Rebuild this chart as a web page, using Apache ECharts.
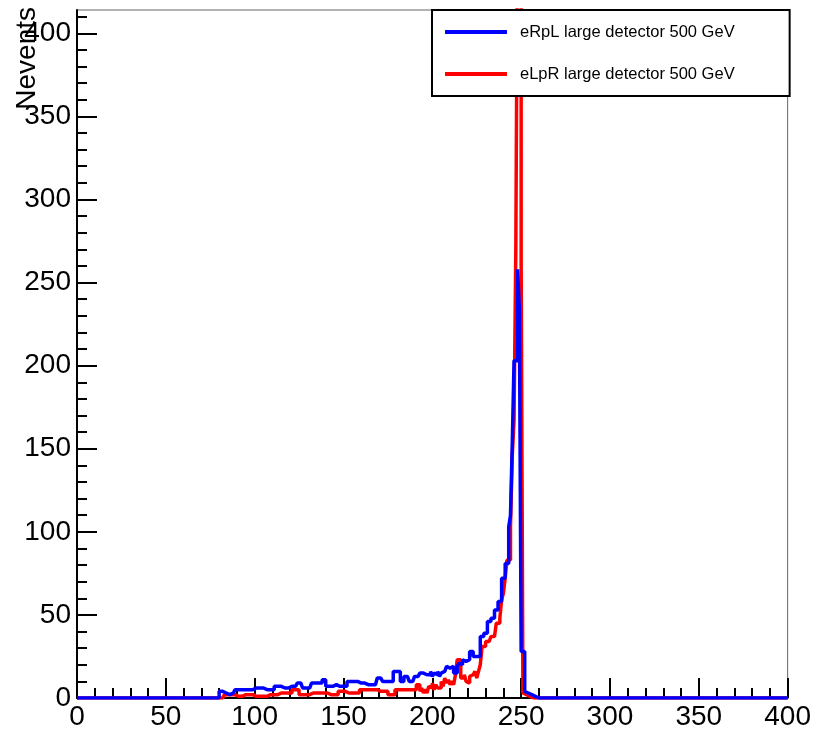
<!DOCTYPE html>
<html>
<head>
<meta charset="utf-8">
<script src="https://cdn.jsdelivr.net/npm/echarts@6/dist/echarts.min.js"></script>
<style>
html,body{margin:0;padding:0;background:#ffffff;}
#chart{width:814px;height:731px;}
</style>
</head>
<body>
<div id="chart"></div>
<script>
// Histogram: 400 bins of width 1 from 0 to 400
const xMin = 0, xMax = 400, yMax = 414;
const blueName = 'eRpL large detector 500 GeV';
const redName = 'eLpR large detector 500 GeV';

// eRpL (blue): counts for bins starting at x = 80
const blueStart = 80;
const blueValues = [
  4,4,3,3,2,2,3,3,2,            // 80-88
  5,5,5,5,                      // 89-92
  5,5,5,5,5,5,                  // 93-98
  6,6,6,6,6,6,6,                // 99-105
  5,5,5,5,5,                    // 106-110
  7,7,7,7,                      // 111-114
  6,6,6,6,6,                    // 115-119
  7,7,7,7,                      // 120-123
  9,9,9,                        // 124-126
  6,6,6,6,6,                    // 127-131
  9,9,9,9,9,9,                  // 132-137
  11,11,                        // 138-139
  7,7,7,7,7,                    // 140-144
  8,8,                          // 145-146
  7,7,7,7,7,                    // 147-151
  10,10,10,10,10,10,            // 152-157
  9,9,9,9,9,                    // 158-162
  8,8,8,8,8,8,                  // 163-168
  12,12,12,                     // 169-171
  10,10,10,10,10,10,            // 172-177
  16,16,16,16,                  // 178-181
  10,10,                        // 182-183
  13,13,13,                     // 184-186
  10,10,10,                     // 187-189
  13,13,13,                     // 190-192
  15,15,                        // 193-194
  14,14,14,14,                  // 195-198
  16,13,15,14,16,13,15,16,      // 199-206
  17,19,18,17,19,               // 207-211
  15,15,                        // 212-213
  19,21,20,23,22,21,23,         // 214-220
  28,28,                        // 221-222
  25,25,25,25,                  // 223-226
  37,37,39,39,46,46,48,48,      // 227-234
  53,53,58,58,72,72,81,81,      // 235-242
  103,110,153,203,203,258,234,  // 243-249
  28,28,4,3,2,2,1,1             // 250-257
];

// eLpR (red): counts for bins starting at x = 80
const redStart = 80;
const redValues = [
  0,0,0,                        // 80-82
  2,2,2,2,2,2,                  // 83-88
  1,1,1,1,                      // 89-92
  2,2,2,2,2,2,2,                // 93-99
  1,1,1,1,1,1,1,                // 100-106
  2,2,2,2,2,2,                  // 107-112
  3,3,3,3,3,3,3,3,              // 113-120
  5,5,5,5,                      // 121-124
  2,2,2,2,2,2,                  // 125-130
  3,3,3,3,3,3,3,3,3,3,3,        // 131-141
  2,2,2,2,2,                    // 142-146
  4,4,4,4,4,                    // 147-151
  3,3,3,3,3,3,3,                // 152-158
  5,5,5,5,5,5,5,5,5,5,5,        // 159-169
  4,4,4,4,4,                    // 170-174
  2,2,2,2,                      // 175-178
  5,5,5,5,5,5,5,5,5,5,5,5,      // 179-190
  8,8,                          // 191-192
  4,6,3,5,3,7,6,9,5,8,6,        // 193-203
  6,10,7,12,9,11,8,10,          // 204-211
  8,14,23,23,12,                // 212-216
  12,14,10,9,13,14,15,16,12,16,20, // 217-227
  31,31,34,34,34,37,37,         // 228-234
  37,45,45,48,59,63,72,83,83,   // 235-243
  103,146,167,270,480,480,262,  // 244-250
  3,2,1,1                       // 251-254
];

// Axis tick values
const yMajorTicks = [0,50,100,150,200,250,300,350,400];
const yMinorTicks = [0,10,20,30,40,50,60,70,80,90,100,110,120,130,140,150,160,170,180,190,200,
  210,220,230,240,250,260,270,280,290,300,310,320,330,340,350,360,370,380,390,400,410];

function buildHist(start, values) {
  const pts = [];
  for (let x = xMin; x < xMax; x++) {
    const i = x - start;
    const v = (i >= 0 && i < values.length) ? values[i] : 0;
    pts.push([x, v]);
  }
  pts.push([xMax, 0]);
  return pts;
}

const font = 'Liberation Sans, Arial, Helvetica, sans-serif';
const chart = echarts.init(document.getElementById('chart'), null, {renderer: 'canvas'});
chart.setOption({
  animation: false,
  backgroundColor: '#ffffff',
  grid: {left: 77, top: 10, right: 26, bottom: 33, show: true, borderColor: '#666666', borderWidth: 1, backgroundColor: 'transparent'},
  xAxis: {
    type: 'value', min: xMin, max: xMax, interval: 50,
    axisLine: {show: true, lineStyle: {color: '#000', width: 2}},
    axisTick: {show: true, inside: true, length: 20, lineStyle: {color: '#000', width: 2}},
    minorTick: {show: true, splitNumber: 5, length: 10, lineStyle: {color: '#000', width: 2}},
    splitLine: {show: false},
    axisLabel: {color: '#000', fontSize: 28, fontFamily: font, margin: 5}
  },
  yAxis: [{
    type: 'value', min: 0, max: yMax, interval: 50, position: 'left',
    axisLine: {show: true, lineStyle: {color: '#000', width: 2}},
    axisTick: {show: true, inside: true, length: 20, customValues: yMajorTicks, lineStyle: {color: '#000', width: 2}},
    splitLine: {show: false},
    axisLabel: {color: '#000', fontSize: 28, fontFamily: font, margin: 6, customValues: yMajorTicks}
  }, {
    type: 'value', min: 0, max: yMax, interval: 10, position: 'left',
    axisLine: {show: false},
    axisTick: {show: true, inside: true, length: 10, customValues: yMinorTicks, lineStyle: {color: '#000', width: 2}},
    splitLine: {show: false},
    axisLabel: {show: false}
  }],
  legend: {
    orient: 'vertical', left: 432, top: 10,
    data: [blueName, redName],
    icon: 'rect', itemWidth: 62, itemHeight: 4, itemGap: 22,
    padding: [12, 55, 12, 13],
    backgroundColor: '#ffffff', borderColor: '#000000', borderWidth: 2,
    textStyle: {color: '#000', fontSize: 16.5, fontFamily: font, lineHeight: 20, padding: [0, 0, 0, 8]}
  },
  graphic: [{
    type: 'text', x: 27, y: 7, rotation: Math.PI / 2,
    style: {text: 'Nevents', font: '28px ' + font, fill: '#000', align: 'right', verticalAlign: 'middle'},
    z: 10
  }],
  series: [{
    name: redName, type: 'line', step: 'end', yAxisIndex: 0,
    data: buildHist(redStart, redValues),
    showSymbol: false, symbol: 'none', clip: true,
    color: '#ff0000', lineStyle: {color: '#ff0000', width: 3.5}, z: 2
  }, {
    name: blueName, type: 'line', step: 'end', yAxisIndex: 0,
    data: buildHist(blueStart, blueValues),
    showSymbol: false, symbol: 'none', clip: true,
    color: '#0000ff', lineStyle: {color: '#0000ff', width: 3.5}, z: 3
  }]
});
</script>
</body>
</html>
